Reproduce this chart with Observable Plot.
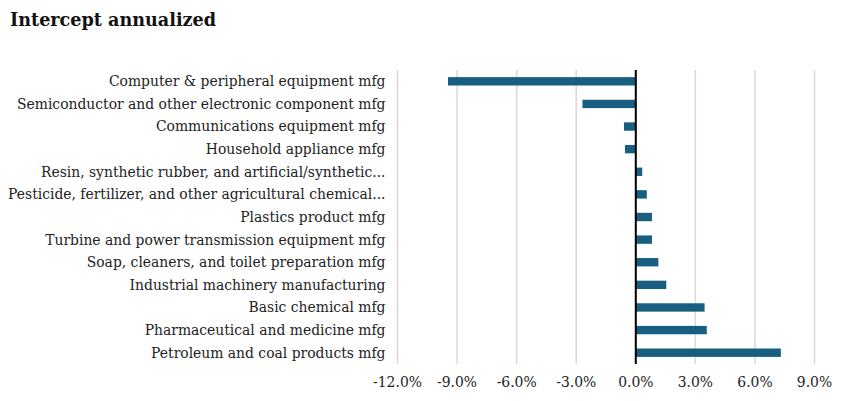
<!DOCTYPE html>
<html><head><meta charset="utf-8">
<script src="https://cdn.jsdelivr.net/npm/d3@7"></script>
<script src="https://cdn.jsdelivr.net/npm/@observablehq/plot@0.6"></script>
<style>
body{margin:0;background:#fff;}
#title{font-family:"DejaVu Serif",serif;font-weight:bold;font-size:17.6px;color:#111;padding:10px 0 0 10px;height:30px;box-sizing:content-box;line-height:20px;}
#chart svg{display:block;}
</style></head>
<body>
<div id="title">Intercept annualized</div>
<div id="chart"></div>
<script>
const categories = [
  "Computer & peripheral equipment mfg",
  "Semiconductor and other electronic component mfg",
  "Communications equipment mfg",
  "Household appliance mfg",
  "Resin, synthetic rubber, and artificial/synthetic...",
  "Pesticide, fertilizer, and other agricultural chemical...",
  "Plastics product mfg",
  "Turbine and power transmission equipment mfg",
  "Soap, cleaners, and toilet preparation mfg",
  "Industrial machinery manufacturing",
  "Basic chemical mfg",
  "Pharmaceutical and medicine mfg",
  "Petroleum and coal products mfg"
];
const values = [-9.43, -2.66, -0.57, -0.52, 0.35, 0.58, 0.84, 0.84, 1.16, 1.56, 3.49, 3.6, 7.33];
const xTicks = [-12, -9, -6, -3, 0, 3, 6, 9];

const data = categories.map((c, i) => ({category: c, value: values[i]}));
const font = '"DejaVu Serif", serif';

const chart = Plot.plot({
  width: 847,
  height: 361,
  marginLeft: 397,
  marginRight: 33,
  marginTop: 30,
  marginBottom: 37,
  style: {fontFamily: font, fontSize: "13.9px", color: "#222", background: "#fff"},
  x: {domain: [-12, 9], ticks: xTicks, tickFormat: d => d.toFixed(1) + "%", label: null},
  y: {domain: categories, paddingInner: 0.63, paddingOuter: 0.315, round: false, label: null},
  marks: [
    Plot.ruleX(xTicks, {stroke: "#d9d9d9", strokeWidth: 1.5}),
    Plot.barX(data, {x: "value", y: "category", fill: "#175e80"}),
    Plot.ruleX([0], {stroke: "#000", strokeWidth: 2}),
    Plot.axisX({ticks: xTicks, tickFormat: d => d.toFixed(1) + "%", tickSize: 0, tickPadding: 13, label: null, fontSize: 13.9}),
    Plot.axisY({tickSize: 0, tickPadding: 12, label: null, fontSize: 13.9})
  ]
});
document.getElementById("chart").appendChild(chart);
</script>
</body></html>
